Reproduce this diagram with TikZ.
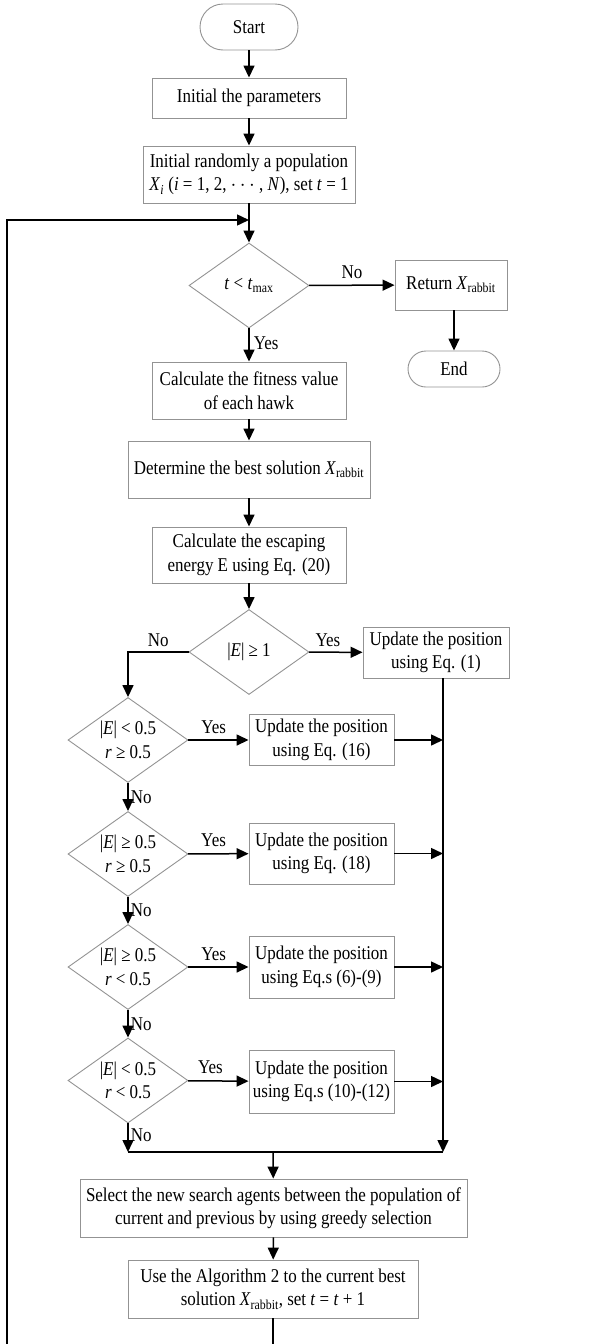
\documentclass[tikz,border=0pt]{standalone}
\usepackage{fontspec}
\setmainfont{Liberation Serif}[FakeStretch=0.87]
\usetikzlibrary{arrows.meta,shapes.geometric}

\newcommand\Xrab{\textit{X}\textsubscript{rabbit}}

\tikzset{
  base/.style={font=\fontsize{19.5}{23.5}\selectfont, align=center, inner sep=0pt},
  procbox/.style={base, draw=gray!85, line width=0.9pt, rectangle},
  termbox/.style={base, draw=gray!85, line width=0.9pt, rectangle},
  decision/.style={base, draw=gray!85, line width=0.9pt, shape=diamond, aspect=1.41,
    minimum width=120pt, minimum height=85pt},
  flow/.style={line width=1.5pt, -{Triangle[length=12pt,width=11pt]}},
  plain/.style={line width=1.5pt},
  lbl/.style={font=\fontsize{19.5}{23.5}\selectfont, inner sep=0pt}
}

\begin{document}
\begin{tikzpicture}[x=1pt,y=-1pt]
\useasboundingbox (0,0) rectangle (615,1344);

% main column
\node[termbox, minimum width=98pt, minimum height=46pt, rounded corners=23pt] (start) at (249,27) {Start};
\node[procbox, minimum width=194pt, minimum height=40pt] (init) at (249,98) {Initial the parameters};
\node[procbox, minimum width=212pt, minimum height=57pt] (pop) at (249,174.5)
  {Initial randomly a population\\\textit{X}\textsubscript{\textit{i}} (\textit{i} = 1, 2, $\cdots$ , \textit{N}), set \textit{t} = 1};
\coordinate (loop) at (249,220);
\node[decision] (d1) at (249,285.5) {\textit{t} < \textit{t}\textsubscript{max}};
\node[procbox, minimum width=112pt, minimum height=50pt] (ret) at (451,285) {Return \Xrab};
\node[termbox, minimum width=92pt, minimum height=36pt, rounded corners=18pt] (stop) at (454,369) {End};
\node[procbox, minimum width=194pt, minimum height=57pt] (fit) at (249,390.5)
  {Calculate the fitness value\\of each hawk};
\node[procbox, minimum width=242pt, minimum height=57pt] (best) at (249,469.5)
  {Determine the best solution \Xrab};
\node[procbox, minimum width=194pt, minimum height=56pt] (esc) at (249,555)
  {Calculate the escaping\\energy E using Eq. (20)};
\node[decision] (d2) at (249,652) {|\textit{E}| ≥ 1};
\node[procbox, minimum width=146pt, minimum height=51pt] (u1) at (436,652.5)
  {Update the position\\using Eq. (1)};

% phase decisions
\node[decision] (d3) at (128,740) {|\textit{E}| < 0.5\\\textit{r} ≥ 0.5};
\node[decision] (d4) at (128,854) {|\textit{E}| ≥ 0.5\\\textit{r} ≥ 0.5};
\node[decision] (d5) at (128,967) {|\textit{E}| ≥ 0.5\\\textit{r} < 0.5};
\node[decision] (d6) at (128,1080.5) {|\textit{E}| < 0.5\\\textit{r} < 0.5};

\node[procbox, minimum width=145pt, minimum height=51pt] (u16) at (321.5,740)
  {Update the position\\using Eq. (16)};
\node[procbox, minimum width=145pt, minimum height=61pt] (u18) at (321.5,853.5)
  {Update the position\\using Eq. (18)};
\node[procbox, minimum width=145pt, minimum height=62pt] (u69) at (321.5,967)
  {Update the position\\using Eq.s (6)-(9)};
\node[procbox, minimum width=145pt, minimum height=63pt] (u1012) at (321.5,1081.5)
  {Update the position\\using Eq.s (10)-(12)};

\node[procbox, minimum width=387pt, minimum height=58pt] (sel) at (273.5,1208)
  {Select the new search agents between the population of\\current and previous by using greedy selection};
\node[procbox, minimum width=290pt, minimum height=58pt] (use) at (273,1289)
  {Use the Algorithm 2 to the current best\\solution \Xrab, set \textit{t} = \textit{t} + 1};

% junction points
\coordinate (busTop) at (443,678);
\coordinate (mergeL) at (128,1152);
\coordinate (mergeR) at (443,1152);
\coordinate (mergeC) at (273,1152);
\coordinate (backB) at (273,1362);
\coordinate (backL) at (7,1362);
\coordinate (backU) at (7,220);

% connectors
\draw[flow] (start) -- (init);
\draw[flow] (init) -- (pop);
\draw[flow] (pop) -- (d1);
\draw[flow] (d1) -- node[lbl, above=6pt, pos=0.5] {No} (ret);
\draw[flow] (ret.south -| stop) -- (stop);
\draw[flow] (d1) -- node[lbl, right=4pt, pos=0.45] {Yes} (fit);
\draw[flow] (fit) -- (best);
\draw[flow] (best) -- (esc);
\draw[flow] (esc) -- (d2);
\draw[flow] (d2) -- node[lbl, above=5pt, pos=0.35] {Yes} (u1);
\draw[flow] (d2.west) -- node[lbl, above=5pt] {No} (d2.west -| d3) -- (d3);

\draw[flow] (d3) -- node[lbl, above=6pt, pos=0.42] {Yes} (u16);
\draw[flow] (d4) -- node[lbl, above=6pt, pos=0.42] {Yes} (u18);
\draw[flow] (d5) -- node[lbl, above=6pt, pos=0.42] {Yes} (u69);
\draw[flow] (d6) -- node[lbl, above=6pt, pos=0.37] {Yes} (u1012);
\draw[flow] (d3) -- node[lbl, right=2pt] {No} (d4);
\draw[flow] (d4) -- node[lbl, right=2pt] {No} (d5);
\draw[flow] (d5) -- node[lbl, right=2pt] {No} (d6);
\draw[flow] (d6) -- node[lbl, right=2pt, pos=0.4] {No} (mergeL);

\draw[flow] (u16) -- (u16 -| busTop);
\draw[flow] (u18) -- (u18 -| busTop);
\draw[flow] (u69) -- (u69 -| busTop);
\draw[flow] (u1012) -- (u1012 -| busTop);
\draw[flow] (busTop) -- (mergeR);
\draw[plain] (mergeL) -- (mergeR);
\draw[flow] (mergeC) -- (sel);
\draw[flow] (sel) -- (use);

% feedback loop to the iteration test
\draw[flow] (use) -- (backB) -- (backL) -- (backU) -- (loop);
\end{tikzpicture}
\end{document}
